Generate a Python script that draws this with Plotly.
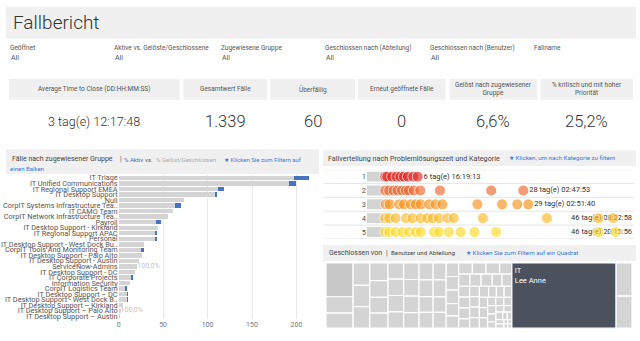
import plotly.graph_objects as go

W, H = 640, 341
def px(x): return x / W
def py(y): return 1 - y / H

FONT = "Roboto"
BLUE_LINK = "#3a78d8"

# ---------------- data ----------------
filter_labels = ["Geöffnet", "Aktive vs. Gelöste/Geschlossene", "Zugewiesene Gruppe",
                 "Geschlossen nach (Abteilung)", "Geschlossen nach (Benutzer)", "Fallname"]
filter_values = ["All", "All", "All", "All", "All", ""]

kpi_titles = ["Average Time to Close (DD:HH:MM:SS)", "Gesamtwert Fälle", "Überfällig",
              "Erneut geöffnete Fälle", "Gelöst nach zugewiesener<br>Gruppe",
              "% kritisch und mit hoher<br>Priorität"]
kpi_values = ["3 tag(e) 12:17:48", "1.339", "60", "0", "6,6%", "25,2%"]

groups = ["IT Triage", "IT Unified Communications", "IT Regional Support EMEA", "IT Desktop Support",
          "Null", "CorpIT Systems Infrastructure Tea..", "IT CAMO Team",
          "CorpIT Network Infrastructure Tea..", "Payroll", "IT Desktop Support - Kirkland",
          "IT Regional Support APAC", "Personal", "IT Desktop Support - West Dock Bu..",
          "CorpIT Tools And Monitoring Team", "IT Desktop Support - Palo Alto",
          "IT Desktop Support - Austin", "ServiceNow-Admins", "IT Desktop Support - DC",
          "IT Corporate Projects", "Information Security", "CorpIT Logistics Team",
          "IT Desktop Support – DC", "IT Desktop Support - West Dock B..",
          "IT Desktop Support – Kirkland", "IT Desktop Support – Palo Alto",
          "IT Desktop Support – Austin"]
resolved = [197, 192, 112, 108, 74, 63, 61, 55, 41.5, 44, 41, 41, 28, 25, 26, 23, 21, 18, 14, 13,
            7.5, 9, 9, 4.5, 2.2, 1]
active = [17, 8, 7, 1.5, 0, 7, 0, 0, 5.6, 0, 2, 1, 0, 3.4, 0, 0, 0, 0, 1.5, 0, 2, 0.5, 0.5, 0, 0, 0]
bar_labels = ["", "", "", "", "", "", "", "", "", "", "", "", "", "", "", "",
              "100,0%", "", "", "", "", "", "", "", "100,0%", ""]
bar_ticks = [0, 50, 100, 150, 200]

categories = ["1", "2", "3", "4", "5"]
days = [
    [0.1, 0.5, 1.5, 2.4, 3.2, 3.9, 4.7, 5.8, 6.68],
    [0.1, 0.9, 1.8, 2.6, 3.5, 4.3, 4.9, 5.9, 7.2, 11.2, 21.6, 28.12],
    [0.2, 1.0, 2.9, 3.9, 5.3, 6.3, 7.3, 9.0, 10.3, 11.7, 18.8, 23.8, 26.9, 29.12],
    [0.1, 0.9, 2.2, 4.3, 5.6, 7.3, 8.6, 9.7, 11.0, 12.7, 14.0, 19.9, 32.9, 43.4, 46.35],
    [0.1, 0.9, 2.2, 3.6, 4.9, 6.3, 7.3, 10.0, 11.0, 13.0, 15.4, 18.2, 22.6, 43.4, 46.86],
]
max_labels = ["6 tag(e) 16:19:13", "28 tag(e) 02:47:53", "29 tag(e) 02:51:40",
              "46 tag(e) 08:22:58", "46 tag(e) 20:15:56"]
cat_colors = ["#de2d26", "#ee6a32", "#f6921e", "#fbbb2c", "#fcd92a"]

it_users = ["Lee Anne", "IT Benutzer 2", "IT Benutzer 3"]
it_values = [400, 31, 30]
null_values = [54, 26, 24, 22, 21, 21, 19, 18, 17, 16, 15, 15, 15, 14, 15, 15, 15, 15, 13,
               14, 14, 13, 13, 12, 13, 12, 10, 10, 10, 9,
               9, 9, 9, 9, 8, 8, 8, 8, 7, 7, 7, 7, 7, 6, 6, 6, 6, 6, 6, 5, 5, 5, 5, 5, 5,
               4, 4, 4, 4, 4, 3, 3, 3, 3, 2, 2, 2, 2, 1, 1, 1, 1]

# ---------------- figure ----------------
fig = go.Figure()

# bar chart
ypos = list(range(len(groups)))
totals = [r + a for r, a in zip(resolved, active)]
fig.add_trace(go.Bar(y=ypos, x=resolved, orientation="h", marker=dict(color="#d4d4d4", line=dict(width=0)),
                     xaxis="x", yaxis="y", hoverinfo="skip"))
fig.add_trace(go.Bar(y=ypos, x=active, orientation="h", marker=dict(color="#4674c1", line=dict(width=0)),
                     xaxis="x", yaxis="y", hoverinfo="skip"))
fig.add_trace(go.Scatter(y=ypos, x=totals, mode="text", text=bar_labels, textposition="middle right",
                         textfont=dict(size=7, color="#c4c4c4", family=FONT), xaxis="x", yaxis="y",
                         hoverinfo="skip"))

# dot chart: labels first (behind dots)
xmin2, xmax2 = -3.64, 51.0
lab_x, lab_pos = [], []
for d in days:
    m = max(d)
    if m + 12 > xmax2:
        lab_x.append(xmax2 - 0.8)
        lab_pos.append("middle left")
    else:
        lab_x.append(m + 1.2)
        lab_pos.append("middle right")
for i, cat in enumerate(categories):
    fig.add_trace(go.Scatter(x=[lab_x[i]], y=[i + 1], mode="text", text=[max_labels[i]],
                             textposition=lab_pos[i], textfont=dict(size=7.5, color="#333", family=FONT),
                             xaxis="x2", yaxis="y2", hoverinfo="skip"))
for i, cat in enumerate(categories):
    fig.add_trace(go.Scatter(x=days[i], y=[i + 1] * len(days[i]), mode="markers",
                             marker=dict(size=11, color=cat_colors[i], opacity=0.66,
                                         line=dict(color="white", width=1)),
                             xaxis="x2", yaxis="y2", hoverinfo="skip"))

# treemap
ids = ["root", "Null", "IT"]
labels = ["", "Null", "IT"]
parents = ["", "root", "root"]
values = [0, 0, 0]
texts = ["", "", ""]
colors = ["white", "#d4d4d4", "#d4d4d4"]
tcolors = ["white", "white", "white"]
for k, v in enumerate(null_values):
    ids.append(f"Null/{k}"); labels.append(f"Benutzer {k + 1}"); parents.append("Null")
    values.append(v); texts.append(""); colors.append("#c8c8c8" if k == 0 else "#d4d4d4")
    tcolors.append("#333")
for k, (u, v) in enumerate(zip(it_users, it_values)):
    ids.append(f"IT/{u}"); labels.append(u); parents.append("IT"); values.append(v)
    texts.append("IT<br>" + u if k == 0 else "")
    colors.append("#4b525e" if k == 0 else "#d4d4d4")
    tcolors.append("white")
fig.add_trace(go.Treemap(ids=ids, labels=labels, parents=parents, values=values, text=texts,
                         branchvalues="remainder", textinfo="text", texttemplate="%{text}",
                         textposition="top left", sort=True,
                         textfont=dict(size=7.5, color=tcolors, family=FONT),
                         marker=dict(colors=colors, line=dict(color="white", width=1.2),
                                     pad=dict(t=0, l=0, r=0, b=0)),
                         tiling=dict(packing="squarify", pad=0),
                         pathbar=dict(visible=False), hoverinfo="skip",
                         domain=dict(x=[px(325), px(632)], y=[py(330), py(264)])))

# ---------------- layout ----------------
shapes = []
def rect(x0, y0, x1, y1, color="#f0f0f0"):
    shapes.append(dict(type="rect", xref="paper", yref="paper", x0=px(x0), x1=px(x1),
                       y0=py(y1), y1=py(y0), fillcolor=color, line=dict(width=0), layer="below"))

rect(4, 5, 636, 37)
kpi_boxes = [(7, 178), (182, 266), (269, 354), (357, 445), (449, 537), (540, 633)]
for x0, x1 in kpi_boxes:
    rect(x0, 78, x1, 99)
rect(4, 149, 318, 174)
rect(322, 150, 636, 166)
rect(322, 246, 636, 262)

# dot chart decorations
for i in range(len(categories)):
    shapes.append(dict(type="rect", xref="x2", yref="y2", x0=xmin2, x1=-0.4, y0=i + 1 - 0.36,
                       y1=i + 1 + 0.36, fillcolor="#d4d4d4", line=dict(width=0), layer="below"))
for i in range(len(categories) + 1):
    shapes.append(dict(type="line", xref="paper", yref="y2", x0=px(323), x1=px(634), y0=i + 0.5,
                       y1=i + 0.5, line=dict(color="#e6e6e6", width=1), layer="below"))

ann = []
def text(x, y, s, size=7, color="#555", xanchor="left", weight=None, align="left"):
    f = dict(size=size, color=color, family=FONT)
    if weight:
        f["weight"] = weight
    ann.append(dict(x=px(x), y=py(y), xref="paper", yref="paper", text=s, showarrow=False,
                    xanchor=xanchor, yanchor="middle", font=f, align=align))

text(9, 21, "Fallbericht", size=19, color="#333", weight=300)
filter_x = [6, 110, 218, 322, 427, 532]
for x, lab, val in zip(filter_x, filter_labels, filter_values):
    text(x, 47, lab, size=6.5, color="#555")
    if val:
        text(x + 1, 57, val, size=7, color="#555")
for (x0, x1), t, v in zip(kpi_boxes, kpi_titles, kpi_values):
    text((x0 + x1) / 2, 88.5, t, size=6.5, color="#555", xanchor="center", align="center")
    text((x0 + x1) / 2, 120.5, v, size=16.5 if len(v) < 8 else 12.5, color="#333", xanchor="center",
         weight=300)

# panel headers (segments placed where the reference puts them)
text(8, 159, "Fälle nach zugewiesener Gruppe", size=7, color="#444")
text(116, 159, "|", size=7, color="#555")
text(120, 159, "% Aktiv", size=6, color="#3c6fc0")
text(141, 159, "vs.", size=6, color="#555")
text(152, 159, "% Gelöst/Geschlossen", size=6, color="#aaaaaa")
text(221, 159, "★ Klicken Sie zum Filtern auf", size=6, color=BLUE_LINK)
text(6, 168, "einen Balken", size=6, color=BLUE_LINK)

text(325, 158, "Fallverteilung nach Problemlösungszeit und Kategorie", size=7.2, color="#444")
text(507, 158, "★ Klicken, um nach Kategorie zu filtern", size=6.2, color=BLUE_LINK)

text(326, 254, "Geschlossen von", size=7, color="#444")
text(383, 254, "|", size=7, color="#555")
text(388, 254, "Benutzer und Abteilung", size=6.2, color="#444")
text(463, 254, "★ Klicken Sie zum Filtern auf ein Quadrat", size=6.2, color=BLUE_LINK)

fig.update_layout(
    width=W, height=H, margin=dict(l=0, r=0, t=0, b=0),
    paper_bgcolor="white", plot_bgcolor="white", showlegend=False,
    barmode="stack", bargap=0.2,
    font=dict(family=FONT, color="#555"),
    xaxis=dict(domain=[px(117), px(315)], range=[0, 222], tickvals=bar_ticks,
               showgrid=True, gridcolor="#e9e9e9", gridwidth=1, zeroline=False, showline=False,
               tickfont=dict(size=7, color="#777"), anchor="y", fixedrange=True),
    yaxis=dict(domain=[py(320.8), py(175.2)], range=[len(groups) - 0.5, -0.5], tickvals=ypos,
               ticktext=groups, showgrid=False, zeroline=False, showline=False,
               tickfont=dict(size=7.3, color="#555"), anchor="x", fixedrange=True),
    xaxis2=dict(domain=[px(366), px(636)], range=[xmin2, xmax2], visible=False, anchor="y2"),
    yaxis2=dict(domain=[py(239.7), py(169.7)], range=[5.5, 0.5], tickvals=[1, 2, 3, 4, 5],
                ticktext=categories, showgrid=False, zeroline=False, showline=False,
                tickfont=dict(size=7.5, color="#555"), anchor="x2"),
    shapes=shapes, annotations=ann,
)

fig.write_html("out.html")
